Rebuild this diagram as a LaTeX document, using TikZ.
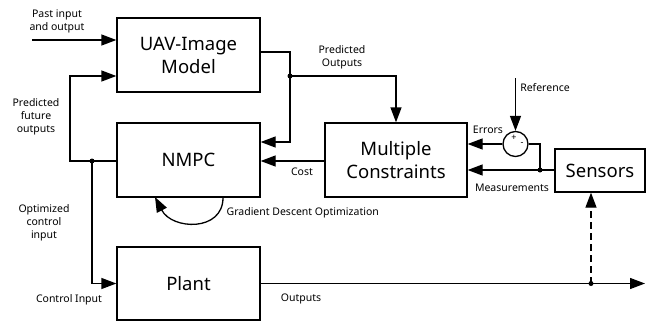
\documentclass[tikz,border=0pt]{standalone}
\usepackage{fontspec}
\setmainfont{Noto Sans}
\usetikzlibrary{arrows.meta,calc}
\begin{document}
\begin{tikzpicture}[x=1pt,y=-1pt, line width=1.3pt,
  blk/.style={draw, minimum width=143pt, minimum height=74pt, font=\fontsize{18.5}{23}\selectfont, align=center, inner sep=0pt},
  lbl/.style={font=\fontsize{10.5}{13}\selectfont, align=center, inner sep=1pt},
  arr/.style={-{Triangle[length=15pt,width=11pt]}},
  jdot/.style={circle, fill, inner sep=0pt, minimum size=5pt}]
\useasboundingbox (0,0) rectangle (646,322);

% blocks
\node[blk] (uav) at (188.5,55) {UAV-Image\\Model};
\node[blk] (nmpc) at (188.5,160) {NMPC};
\node[blk, minimum height=73pt] (plant) at (188.5,283.5) {Plant};
\node[blk, minimum width=142pt] (mc) at (396,160) {Multiple\\Constraints};
\node[blk, minimum width=90pt, minimum height=43pt] (sens) at (600,170.5) {Sensors};
\node[draw, circle, minimum size=25pt, inner sep=0pt] (sum) at (515.5,144) {};
\node[font=\fontsize{9}{10}\selectfont, inner sep=0pt] (plus) at (514,138) {+};
\node[font=\fontsize{9}{10}\selectfont, inner sep=0pt] (minus) at (522,144.5) {-};

% junctions and free ends
\coordinate (pin) at (32,40);
\coordinate (j1) at (290,76);
\coordinate (j2) at (92,161);
\coordinate (j3) at (591,283.5);
\coordinate (j4) at (540,170);
\coordinate (ref) at (515.5,78);
\coordinate (pout) at (645,283.5);

% connectors
\draw[arr] (pin) -- (uav.west |- pin);
\draw[arr] (uav.east |- 0,52) -- (290,52) -- (290,142) -- (nmpc.east |- 0,142);
\draw[arr] (j1) -| (mc.north);
\draw[arr] (mc.west |- j2) -- (nmpc.east |- j2);
\draw (nmpc.west |- j2) -- (j2);
\draw[arr] (j2) -- (70,161) -- (70,76) -- (uav.west |- 0,76);
\draw[arr] (j2) |- (plant.west);
\draw[arr] (plant.east) -- (pout);
\draw[arr, dashed, dash pattern=on 7pt off 4pt] (j3) -- (sens.south -| j3);
\draw[arr] (sens.west |- j4) -- (mc.east |- j4);
\draw (j4) |- (sum.east);
\draw[arr] (sum.west) -- (mc.east |- sum.west);
\draw[arr] (ref) -- (sum.north);
\draw[arr] ($(nmpc.south)+(34.5,0)$) .. controls (223,232) and (172,230) .. (155,197);

\node[jdot] at (j1) {};
\node[jdot] at (j2) {};
\node[jdot] at (j3) {};
\node[jdot] at (j4) {};

% labels
\node[lbl] (l1) at (57,21) {Past input\\and output};
\node[lbl] (l2) at (342,57) {Predicted\\Outputs};
\node[lbl] (l3) at (545,88) {Reference};
\node[lbl] (l4) at (488,130) {Errors};
\node[lbl] (l5) at (512,188) {Measurements};
\node[lbl] (l6) at (302,172) {Cost};
\node[lbl, anchor=west] (l7) at (225,213) {Gradient Descent Optimization};
\node[lbl] (l8) at (36,117) {Predicted\\future\\outputs};
\node[lbl] (l9) at (44,223) {Optimized\\control\\input};
\node[lbl] (l10) at (69,300) {Control Input};
\node[lbl] (l11) at (301,299) {Outputs};
\end{tikzpicture}
\end{document}
